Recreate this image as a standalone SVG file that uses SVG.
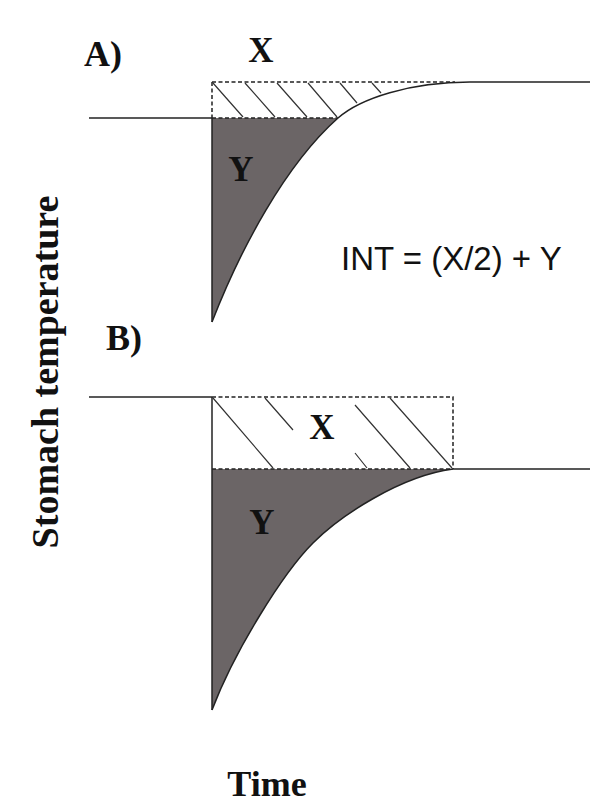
<svg xmlns="http://www.w3.org/2000/svg" width="603" height="804" viewBox="0 0 603 804">
<style>
.lbl{font-family:"Liberation Serif","Times New Roman",serif;font-weight:bold;fill:#111}
.eq{font-family:"Liberation Sans",Arial,sans-serif;fill:#111}
.ln{stroke:#222;stroke-width:1.5;fill:none}
.dash{stroke:#222;stroke-width:1.5;fill:none;stroke-dasharray:4 2.5}
.hat{stroke:#333;stroke-width:1.2;fill:none}
.gray{fill:#6b6566}
</style>
<rect width="603" height="804" fill="#fff"/>
<g id="panelA">
  <path class="gray" d="M212,322 C240,250 285,165 338,118 L212,118 Z"/>
  <line class="ln" x1="89" y1="118" x2="212" y2="118"/>
  <line class="ln" x1="212" y1="118" x2="212" y2="322" stroke-width="1"/>
  <path class="ln" d="M212,322 C240,250 285,165 338,118 C360,98.5 410,82 470,82 L590,82" stroke-width="1.3"/>
  <path class="dash" d="M212,82 L455,82 M212,82 L212,118 M212,118 L338,118"/>
  <path class="hat" d="M213,83 L243,117 M245,83 L275,117 M277,83 L307,117 M308,83 L337,117 M340,83 L357,103 M372,83 L381,93"/>
  <text class="lbl" x="84" y="66" font-size="36">A)</text>
  <text class="lbl" x="261" y="62" font-size="35" text-anchor="middle">X</text>
  <text class="lbl" x="241" y="181" font-size="35" text-anchor="middle">Y</text>
</g>
<g id="panelB">
  <path class="gray" d="M212,710 C235,650 283,573 313,543 C340,516 400,476 453,469 L212,469 Z"/>
  <line class="ln" x1="89" y1="397" x2="212" y2="397"/>
  <line class="ln" x1="212" y1="397" x2="212" y2="710" stroke-width="1.2"/>
  <path class="ln" d="M212,710 C235,650 283,573 313,543 C340,516 400,476 453,469 L590,469" stroke-width="1.3"/>
  <path class="dash" d="M212,397 L453,397 L453,469 M212,469 L453,469"/>
  <path class="hat" d="M213,398 L273,468 M265,398 L293,430 M355,453 L367,468 M355,405 L410,468 M390,398 L452,468"/>
  <text class="lbl" x="106" y="350" font-size="36">B)</text>
  <text class="lbl" x="322" y="439" font-size="35" text-anchor="middle">X</text>
  <text class="lbl" x="262" y="534" font-size="35" text-anchor="middle">Y</text>
</g>
<g id="equation">
  <text class="eq" x="341" y="270" font-size="33">INT = (X/2) + Y</text>
</g>
<g id="axes">
  <text class="lbl" font-size="38" text-anchor="middle" transform="translate(58,372) rotate(-90)">Stomach temperature</text>
  <text class="lbl" x="267" y="796" font-size="36" text-anchor="middle">Time</text>
</g>
</svg>
